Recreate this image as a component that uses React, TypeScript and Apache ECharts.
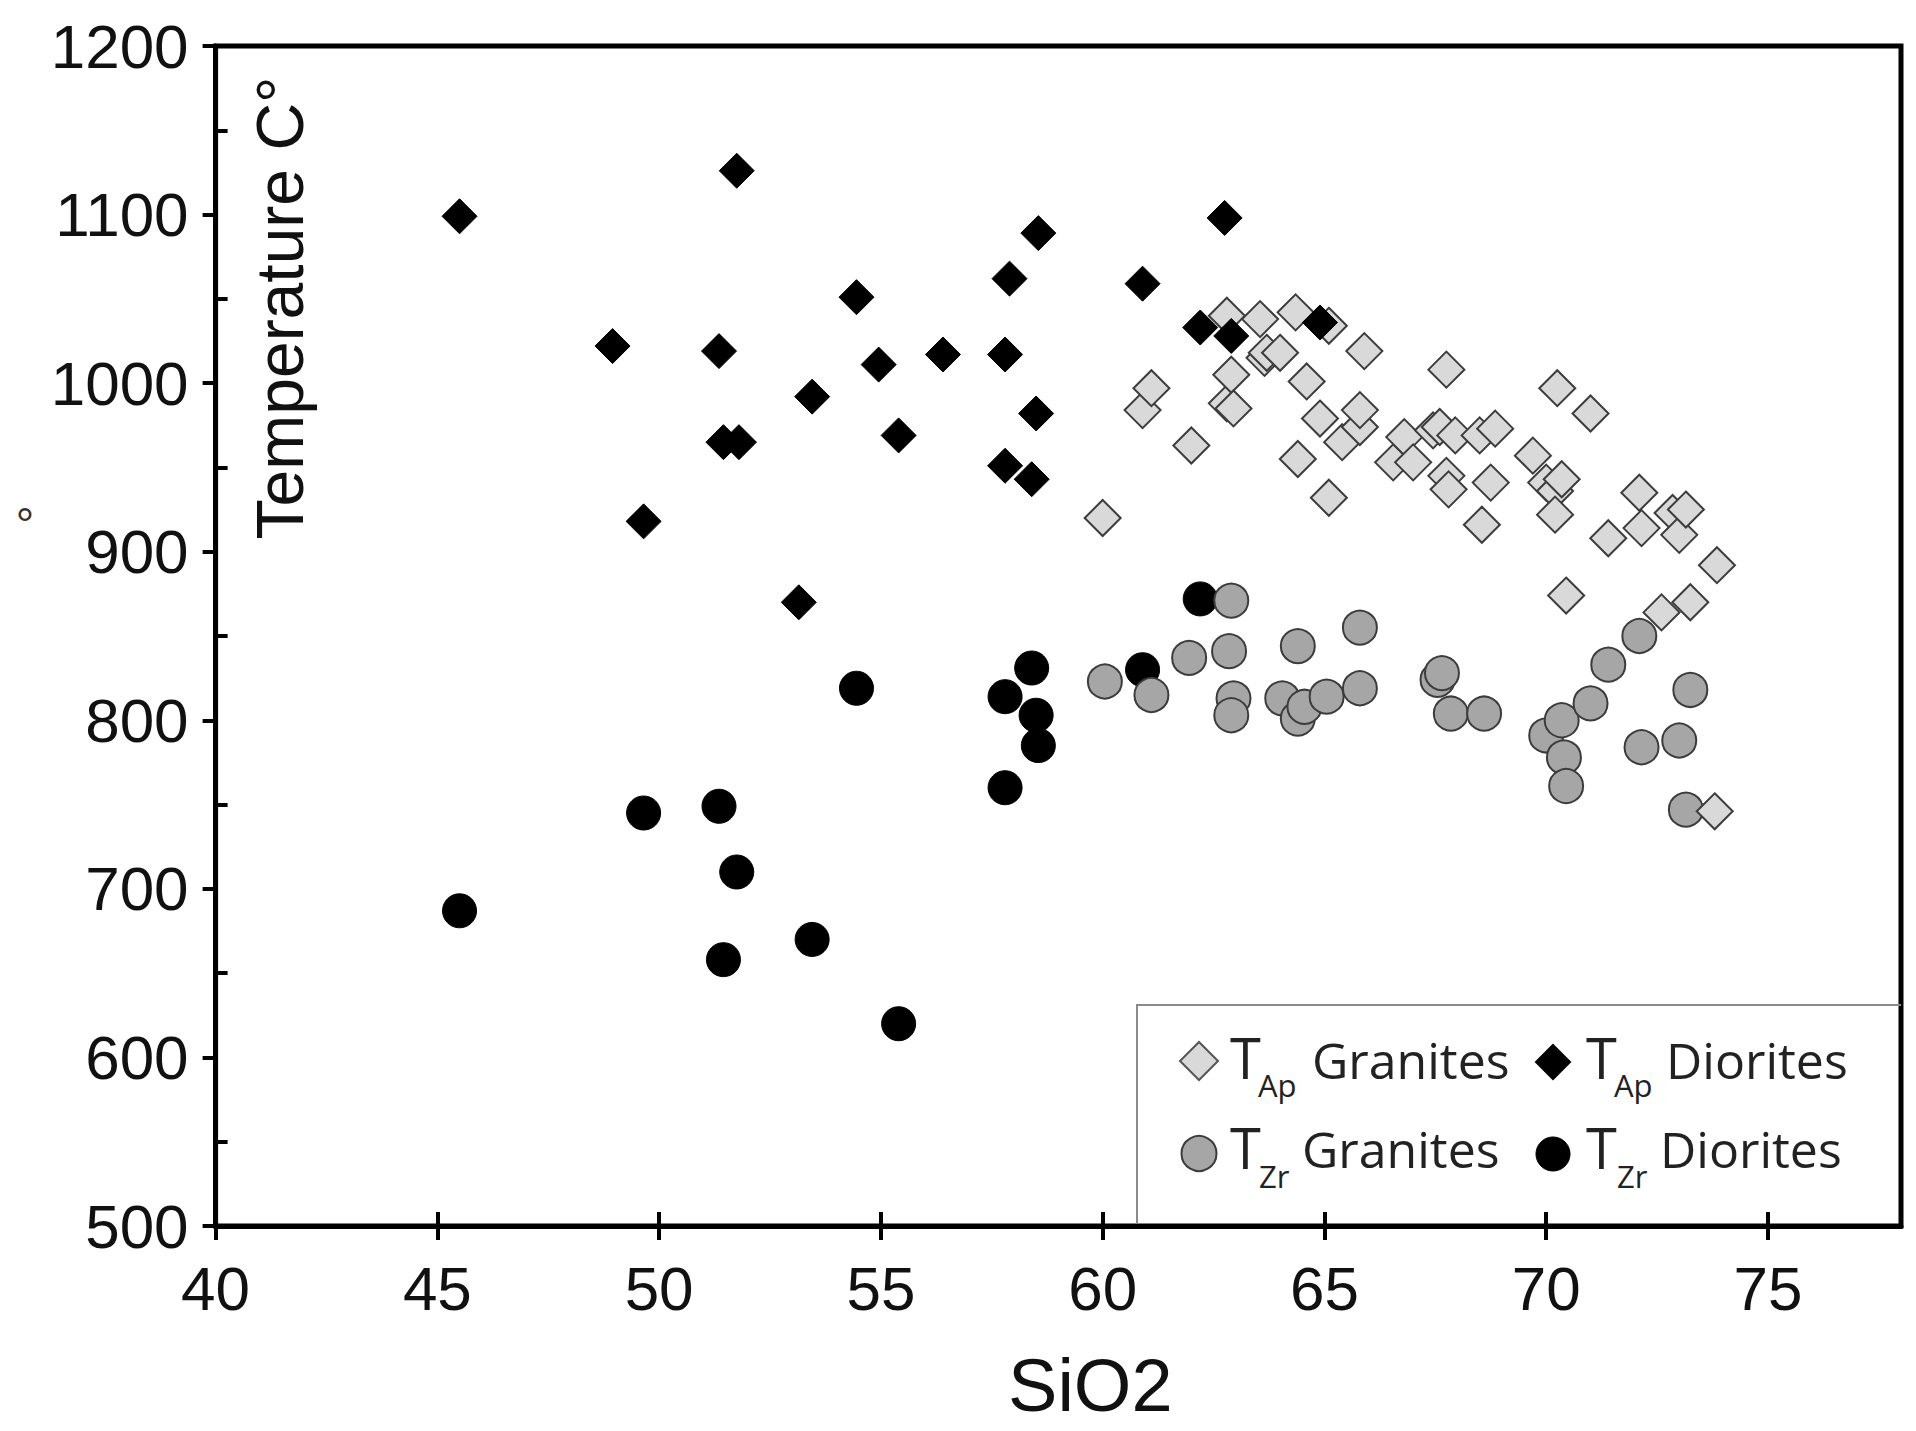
import React, { useEffect, useRef } from "react";
import * as echarts from "echarts";

const xTicks = [40, 45, 50, 55, 60, 65, 70, 75];
const yTicks = [500, 600, 700, 800, 900, 1000, 1100, 1200];

// T_Ap Granites  [SiO2, T]
const apGranites = [
  [60.0, 920], [60.9, 984], [61.1, 997], [62.0, 963], [62.8, 1040], [62.8, 988],
  [62.9, 1005], [62.95, 985], [63.55, 1038], [63.65, 1015], [63.7, 1018], [64.0, 1018],
  [64.35, 1042], [64.4, 955], [64.6, 1001], [64.9, 979], [65.1, 932], [65.1, 1034],
  [65.4, 965], [65.8, 974], [65.8, 984], [65.9, 1019], [66.55, 953], [66.8, 968],
  [67.0, 953], [67.45, 972], [67.6, 974], [67.75, 1008], [67.75, 945], [67.8, 937],
  [67.95, 969], [68.5, 969], [68.55, 916], [68.75, 941], [68.85, 973], [69.7, 957],
  [70.0, 941], [70.2, 936], [70.2, 922], [70.25, 997], [70.35, 943], [70.45, 874],
  [71.0, 982], [71.4, 908], [72.1, 935], [72.15, 914], [72.6, 864], [72.85, 923],
  [73.0, 910], [73.15, 925], [73.25, 870], [73.85, 892], [73.8, 746],
];

// T_Ap Diorites
const apDiorites = [
  [45.5, 1099], [48.95, 1022], [49.65, 918], [51.35, 1019], [51.45, 965], [51.75, 1126],
  [51.8, 965], [53.15, 870], [53.45, 992], [54.45, 1051], [54.95, 1011], [55.4, 969],
  [56.4, 1017], [57.8, 1017], [57.8, 951], [57.9, 1062], [58.4, 943], [58.5, 982],
  [58.55, 1089], [60.9, 1059], [62.2, 1033], [62.75, 1098], [62.9, 1028], [64.9, 1036],
];

// T_Zr Granites
const zrGranites = [
  [60.05, 823], [61.1, 815], [61.95, 837], [62.85, 841], [62.9, 871], [62.95, 813],
  [62.9, 803], [64.05, 813], [64.4, 844], [64.4, 801], [64.55, 808], [65.05, 814],
  [65.8, 855], [65.8, 819], [67.55, 824], [67.65, 828], [67.85, 804], [68.6, 804],
  [70.0, 791], [70.35, 800], [70.4, 778], [70.45, 761], [71.0, 810], [71.4, 833],
  [72.1, 850], [72.15, 784], [73.0, 788], [73.25, 818], [73.15, 747],
];

// T_Zr Diorites
const zrDiorites = [
  [45.5, 687], [49.65, 745], [51.35, 749], [51.45, 658], [51.75, 710], [53.45, 670],
  [54.45, 819], [55.4, 620], [57.8, 814], [57.8, 760], [58.4, 831], [58.5, 803],
  [58.55, 785], [60.9, 830], [62.2, 872],
];

const AX = '"Liberation Sans", Arial, sans-serif';
const LG = '"Open Sans", sans-serif';

const GREY_DIAMOND = "#d9d9d9";
const GREY_CIRCLE = "#a6a6a6";
const EDGE = "#3c3c3c";

function legendText(text: string, x: number, y: number, size: number) {
  return {
    type: "text",
    x,
    y,
    silent: true,
    style: { text, fontSize: size, fontFamily: LG, fill: "#222", align: "left", verticalAlign: "middle" },
  };
}

function diamond(cx: number, cy: number, h: number, fill: string, stroke: string) {
  return {
    type: "polygon",
    silent: true,
    shape: { points: [[cx, cy - h], [cx + h, cy], [cx, cy + h], [cx - h, cy]] },
    style: { fill, stroke, lineWidth: 2 },
  };
}

export default function App() {
  const ref = useRef<HTMLDivElement>(null);
  useEffect(() => {
    const chart = echarts.init(ref.current!, null, { renderer: "svg" });
    const option: any = {
      animation: false,
      backgroundColor: "#fff",
      grid: { left: 215.6, right: 15, top: 46, bottom: 205, show: true, borderColor: "#000", borderWidth: 5, backgroundColor: "transparent" },
      xAxis: [
        {
          type: "value", min: 40, max: 78, position: "bottom",
          axisLine: { show: true, onZero: false, lineStyle: { color: "#000", width: 5 } },
          axisTick: { show: true, length: 14, customValues: xTicks, lineStyle: { color: "#000", width: 4 } },
          axisLabel: { customValues: xTicks, fontSize: 62, fontFamily: AX, color: "#111", margin: 31, formatter: (v: number) => String(v) },
          splitLine: { show: false },
          name: "SiO2", nameLocation: "middle", nameGap: 122,
          nameTextStyle: { fontSize: 74, fontFamily: AX, color: "#111", padding: [0, 0, 0, 64] },
        },
        {
          type: "value", min: 40, max: 78, position: "bottom",
          axisLine: { show: false, onZero: false },
          axisTick: { show: true, inside: true, length: 14, customValues: xTicks, lineStyle: { color: "#000", width: 4 } },
          axisLabel: { show: false },
          splitLine: { show: false },
        },
      ],
      yAxis: [
        {
          type: "value", min: 500, max: 1200, interval: 100,
          axisLine: { show: true, onZero: false, lineStyle: { color: "#000", width: 5 } },
          axisTick: { show: true, length: 13, lineStyle: { color: "#000", width: 4 } },
          axisLabel: {
            customValues: yTicks, fontSize: 62, fontFamily: AX, color: "#111", margin: 27,
            padding: [0, 0, 10, 0], formatter: (v: number) => String(v),
          },
          splitLine: { show: false },
        },
        {
          type: "value", min: 500, max: 1200, interval: 100, position: "left",
          axisLine: { show: false, onZero: false },
          axisTick: { show: true, inside: true, length: 0, lineStyle: { color: "#000", width: 4 } },
          minorTick: { show: true, splitNumber: 2, length: 12, lineStyle: { color: "#000", width: 4 } },
          axisLabel: { show: false },
          splitLine: { show: false },
          minorSplitLine: { show: false },
        },
      ],
      series: [
        {
          name: "TZr Diorites", type: "scatter", data: zrDiorites, symbol: "circle", symbolSize: 34,
          itemStyle: { color: "#000", borderColor: "#000", borderWidth: 1, opacity: 1 },
        },
        {
          name: "TZr Granites", type: "scatter", data: zrGranites, symbol: "circle", symbolSize: 34,
          itemStyle: { color: GREY_CIRCLE, borderColor: EDGE, borderWidth: 2, opacity: 1 },
        },
        {
          name: "TAp Granites", type: "scatter", data: apGranites, symbol: "diamond", symbolSize: 36,
          itemStyle: { color: GREY_DIAMOND, borderColor: EDGE, borderWidth: 2, opacity: 1 },
        },
        {
          name: "TAp Diorites", type: "scatter", data: apDiorites, symbol: "diamond", symbolSize: 35,
          itemStyle: { color: "#000", borderColor: "#000", borderWidth: 1, opacity: 1 },
        },
      ],
      graphic: [
        {
          type: "text", x: 280, y: 308, rotation: Math.PI / 2, silent: true,
          style: { text: "Temperature C°", fontSize: 66, fontFamily: AX, fill: "#111", align: "center", verticalAlign: "middle" },
        },
        {
          type: "text", x: 25, y: 525, silent: true,
          style: { text: "°", fontSize: 46, fontFamily: AX, fill: "#333", align: "center", verticalAlign: "middle" },
        },
        {
          type: "polyline", silent: true,
          shape: { points: [[1137, 1226], [1137, 1005], [1901, 1005]] },
          style: { stroke: "#8a8a8a", lineWidth: 2, fill: null },
        },
        diamond(1199, 1061, 19, GREY_DIAMOND, "#555"),
        legendText("T", 1230, 1057, 56),
        legendText("Ap", 1258, 1084.7, 31),
        legendText("Granites", 1312, 1059.6, 50),
        diamond(1553, 1062, 17, "#000", "#000"),
        legendText("T", 1586, 1057, 56),
        legendText("Ap", 1614, 1084.7, 31),
        legendText("Diorites", 1666, 1059.6, 50),
        {
          type: "circle", silent: true, shape: { cx: 1199, cy: 1153.5, r: 17.5 },
          style: { fill: GREY_CIRCLE, stroke: EDGE, lineWidth: 2 },
        },
        legendText("T", 1230, 1146.6, 56),
        legendText("Zr", 1259, 1176.3, 31),
        legendText("Granites", 1302, 1148.9, 50),
        {
          type: "circle", silent: true, shape: { cx: 1553, cy: 1154, r: 17 },
          style: { fill: "#000", stroke: "#000", lineWidth: 1 },
        },
        legendText("T", 1586, 1146.6, 56),
        legendText("Zr", 1617, 1176.3, 31),
        legendText("Diorites", 1660, 1148.9, 50),
      ],
    };
    chart.setOption(option);
    return () => chart.dispose();
  }, []);
  return (
    <div
      ref={ref}
      style={{ position: "absolute", left: 0, top: 0, width: 1916, height: 1431, background: "#fff" }}
    />
  );
}
